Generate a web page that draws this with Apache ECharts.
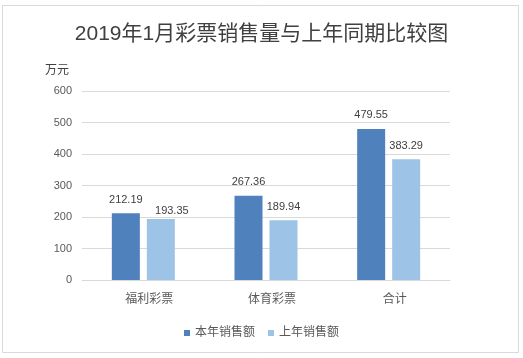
<!DOCTYPE html>
<html><head><meta charset="utf-8">
<script src="https://cdn.jsdelivr.net/npm/echarts@6/dist/echarts.min.js"></script>
<style>html,body{margin:0;padding:0;background:#fff}#c{width:523px;height:358px}</style>
</head><body><div id="c"></div>
<script>
var categories = ['福利彩票', '体育彩票', '合计'];
var thisYear = [212.19, 267.36, 479.55];
var lastYear = [193.35, 189.94, 383.29];
var seriesNames = ['本年销售额', '上年销售额'];
var FONT = "'Liberation Sans', 'Noto Sans CJK SC', sans-serif";
var chart = echarts.init(document.getElementById('c'));
var lbl = {show: true, position: 'top', distance: 8, color: '#404040', fontSize: 11, fontFamily: FONT};
var lastYearData = lastYear.map(function (v, i) {
  return i === 0 ? {value: v, label: {offset: [11, 5]}} : v;
});
chart.setOption({
  animation: false,
  textStyle: {fontFamily: FONT},
  graphic: [{type: 'rect', shape: {x: 2.5, y: 5.5, width: 516, height: 347}, style: {fill: 'none', stroke: '#d9d9d9', lineWidth: 1}, silent: true}],
  title: {text: '2019年1月彩票销售量与上年同期比较图', left: 'center', top: 19,
    textStyle: {fontSize: 21, fontWeight: 'normal', color: '#404040', fontFamily: FONT}},
  legend: {data: seriesNames, bottom: 14, left: 'center', itemWidth: 6, itemHeight: 6, itemGap: 13,
    icon: 'rect', textStyle: {color: '#595959', fontSize: 12, fontFamily: FONT}},
  grid: {left: 82, right: 73, top: 91, bottom: 78},
  xAxis: {type: 'category', data: categories,
    axisLine: {lineStyle: {color: '#d9d9d9'}}, axisTick: {show: false},
    axisLabel: {color: '#595959', fontSize: 12, margin: 14, padding: [0, 0, 0, 12]}},
  yAxis: {type: 'value', min: 0, max: 600, interval: 100,
    name: '万元', nameLocation: 'end', nameGap: 14,
    nameTextStyle: {color: '#404040', fontSize: 12, align: 'right', padding: [0, 13, 0, 0]},
    axisLine: {show: false}, axisTick: {show: false},
    splitLine: {lineStyle: {color: '#d9d9d9'}},
    axisLabel: {color: '#595959', fontSize: 11, margin: 10}},
  series: [
    {name: seriesNames[0], type: 'bar', data: thisYear, barWidth: 28, barGap: '25%', itemStyle: {color: '#4f81bd'}, label: lbl},
    {name: seriesNames[1], type: 'bar', data: lastYearData, barWidth: 28, itemStyle: {color: '#9dc3e6'}, label: lbl}
  ]
});
</script></body></html>
